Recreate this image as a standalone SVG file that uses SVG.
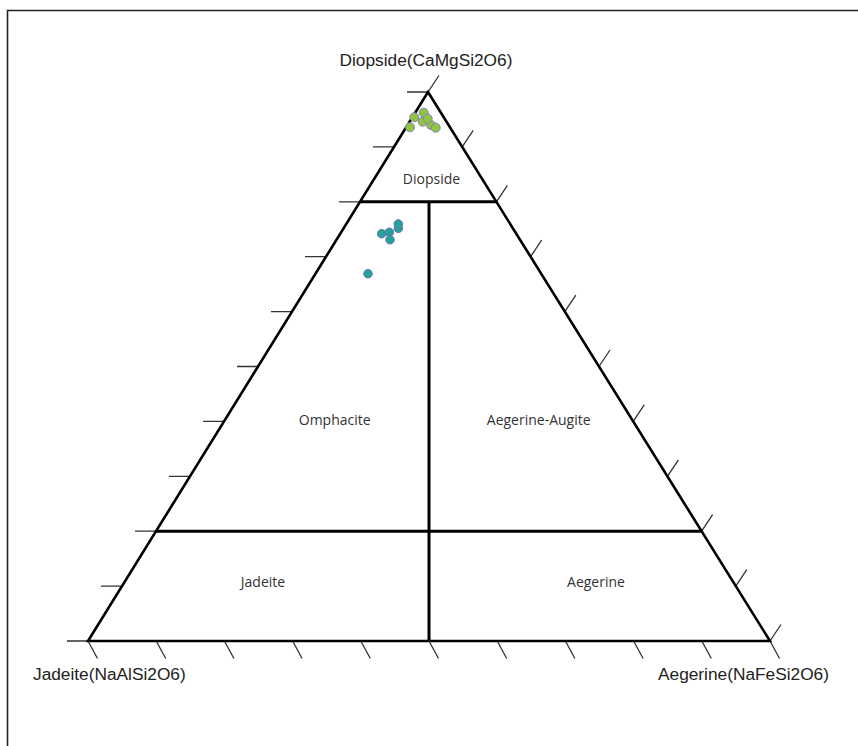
<svg xmlns="http://www.w3.org/2000/svg" width="858" height="746" viewBox="0 0 858 746">
<style>
.frame{fill:none;stroke:#222;stroke-width:1.6}
.edge{fill:none;stroke:#000;stroke-width:2.6;stroke-linejoin:miter}
.div{fill:none;stroke:#000;stroke-width:3}
.tick{stroke:#333;stroke-width:1.3;fill:none}
.end{font-family:"Liberation Sans",Arial,sans-serif;font-size:17.3px;fill:#222}
.field{font-family:"Open Sans","Noto Sans",sans-serif;font-size:14px;fill:#333;text-anchor:middle}
.di{fill:#8dc63f;stroke:#8a7fc0;stroke-width:1}
.ae{fill:#1fa39a;stroke:#7b6fb5;stroke-width:1}
</style>
<rect width="858" height="746" fill="#fff"/>
<path class="frame" d="M7.5,746 V10.5 H858"/>
<g id="ticks">
<path class="tick" d="M88,641h-21 M122,586.1h-21 M156,531.2h-21 M190,476.3h-21 M224,421.4h-21 M258,366.5h-21 M292,311.6h-21 M326,256.7h-21 M360,201.8h-21 M394,146.9h-21 M428,92h-21"/>
<path class="tick" d="M770,641l11,-16.5 M735.8,586.1l11,-16.5 M701.6,531.2l11,-16.5 M667.4,476.3l11,-16.5 M633.2,421.4l11,-16.5 M599,366.5l11,-16.5 M564.8,311.6l11,-16.5 M530.6,256.7l11,-16.5 M496.4,201.8l11,-16.5 M462.2,146.9l11,-16.5 M428,92l11,-16.5"/>
<path class="tick" d="M88,641l9.5,17.5 M156.2,641l9.5,17.5 M224.4,641l9.5,17.5 M292.6,641l9.5,17.5 M360.8,641l9.5,17.5 M429,641l9.5,17.5 M497.2,641l9.5,17.5 M565.4,641l9.5,17.5 M633.6,641l9.5,17.5 M701.8,641l9.5,17.5 M770,641l9.5,17.5"/>
</g>
<g id="connectors">
<path class="edge" d="M428,92 L770,641 L88,641 Z"/>
<path class="div" d="M156,531.2 H701.6 M360,201.8 H496.4 M429,201.8 V641"/>
</g>
<g id="endmembers">
<text class="end" x="426" y="66" text-anchor="middle">Diopside(CaMgSi2O6)</text>
<text class="end" x="33" y="680">Jadeite(NaAlSi2O6)</text>
<text class="end" x="658" y="680">Aegerine(NaFeSi2O6)</text>
</g>
<g id="field-diopside"><text class="field" x="431.5" y="183.5">Diopside</text></g>
<g id="field-omphacite"><text class="field" x="334.7" y="425">Omphacite</text></g>
<g id="field-aegerine-augite"><text class="field" x="538.7" y="425">Aegerine-Augite</text></g>
<g id="field-jadeite"><text class="field" x="263" y="587">Jadeite</text></g>
<g id="field-aegerine"><text class="field" x="596" y="587">Aegerine</text></g>
<g id="points-diopside">
<circle class="di" cx="410" cy="127.3" r="4.5"/>
<circle class="di" cx="414.3" cy="117.3" r="4.5"/>
<circle class="di" cx="423.7" cy="112.7" r="4.5"/>
<circle class="di" cx="422.7" cy="121.7" r="4.5"/>
<circle class="di" cx="431" cy="125" r="4.5"/>
<circle class="di" cx="427.7" cy="118.7" r="4.5"/>
<circle class="di" cx="435.7" cy="127.7" r="4.5"/>
</g>
<g id="points-omphacite">
<circle class="ae" cx="398.3" cy="228.3" r="4.3"/>
<circle class="ae" cx="398.3" cy="224" r="4.3"/>
<circle class="ae" cx="381.7" cy="233.7" r="4.3"/>
<circle class="ae" cx="389.3" cy="232.3" r="4.3"/>
<circle class="ae" cx="390" cy="239.7" r="4.3"/>
<circle class="ae" cx="368" cy="273.7" r="4.3"/>
</g>
</svg>
